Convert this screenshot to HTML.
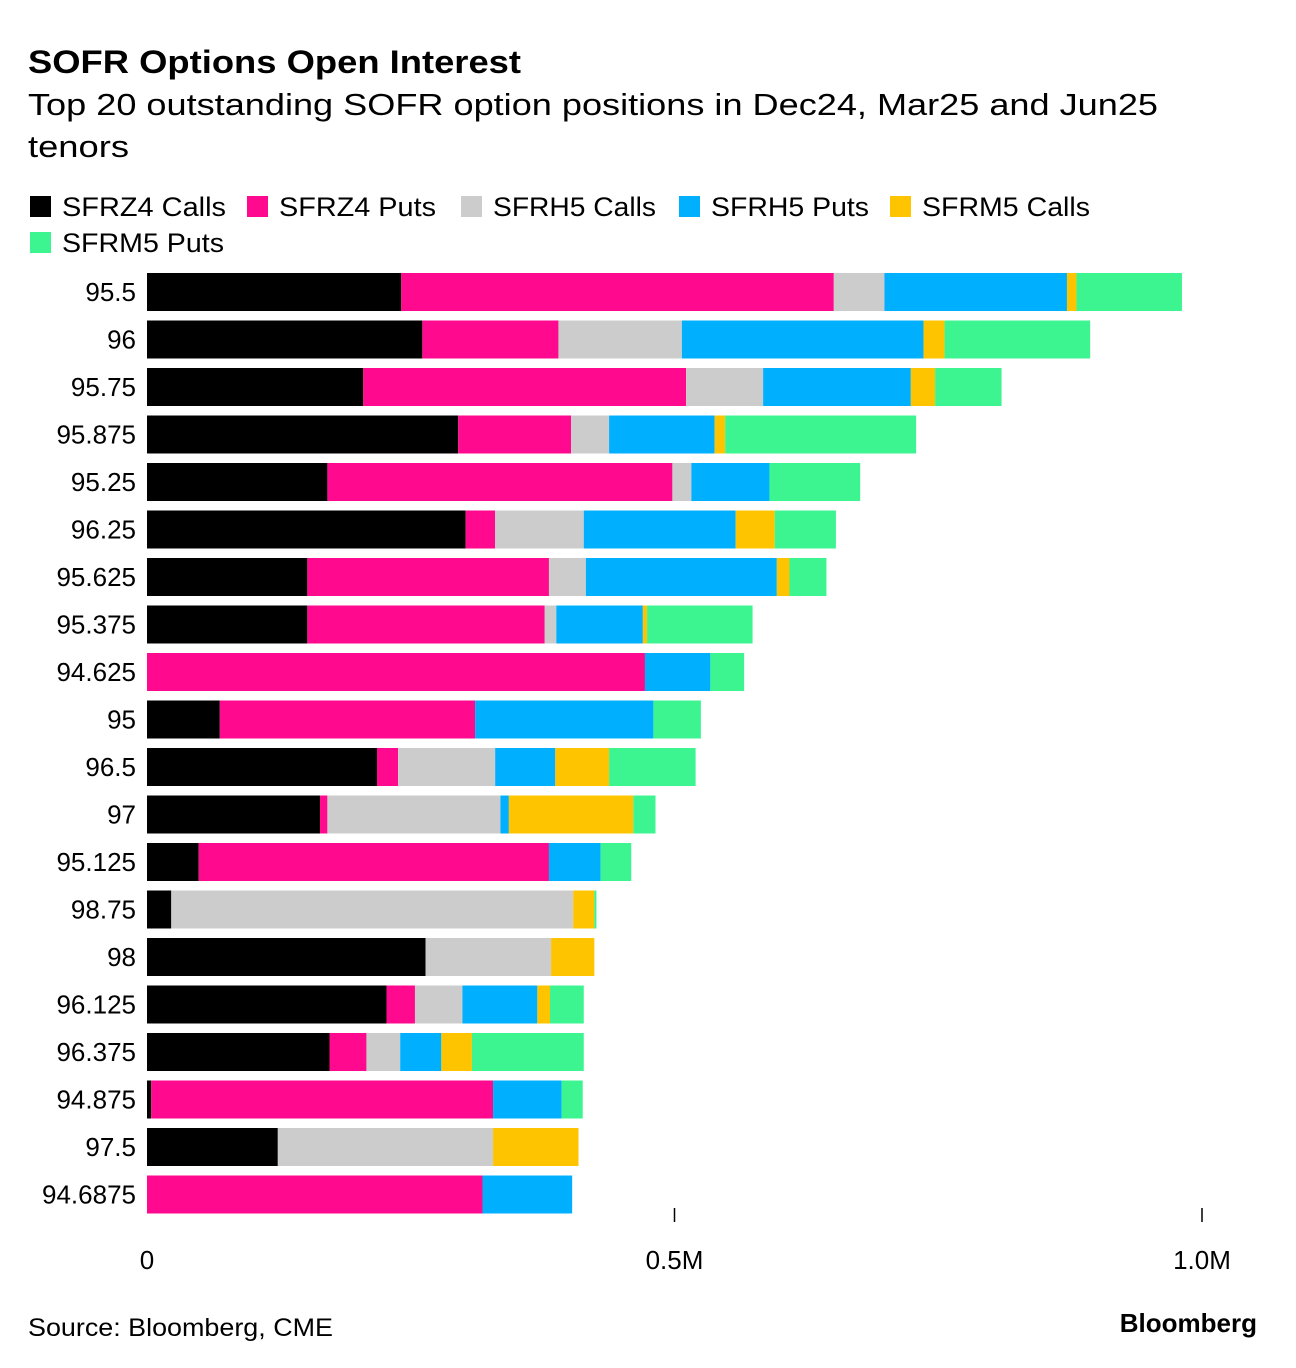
<!DOCTYPE html>
<html><head><meta charset="utf-8">
<style>
body{margin:0;background:#fff;font-family:"Liberation Sans",sans-serif;}
#wrap{position:relative;width:1296px;height:1368px;overflow:hidden;}
</style></head>
<body>
<div id="wrap">
<svg id="chart" width="1296" height="1368" xmlns="http://www.w3.org/2000/svg">
<text x="28" y="73" font-size="32" font-weight="bold" fill="#000" textLength="493" lengthAdjust="spacingAndGlyphs">SOFR Options Open Interest</text>
<text x="28" y="115" font-size="31" fill="#000" textLength="1130" lengthAdjust="spacingAndGlyphs">Top 20 outstanding SOFR option positions in Dec24, Mar25 and Jun25</text>
<text x="28" y="157" font-size="31" fill="#000" textLength="101" lengthAdjust="spacingAndGlyphs">tenors</text>
<g id="legend"></g>
<g id="bars"></g>
<g id="axis"></g>
<text x="28" y="1336" font-size="25" fill="#000" textLength="305" lengthAdjust="spacingAndGlyphs">Source: Bloomberg, CME</text>
<text x="1257" y="1332" font-size="26" font-weight="bold" text-anchor="end" fill="#000">Bloomberg</text>
</svg>
</div>
<script>
const categories=["95.5","96","95.75","95.875","95.25","96.25","95.625","95.375","94.625","95","96.5","97","95.125","98.75","98","96.125","96.375","94.875","97.5","94.6875"];
const seriesNames=["SFRZ4 Calls","SFRZ4 Puts","SFRH5 Calls","SFRH5 Puts","SFRM5 Calls","SFRM5 Puts"];
const seriesColors=["#000000","#ff0a8f","#cccccc","#00b0ff","#ffc400","#3cf590"];
// values in thousands of contracts
const z4Calls=[241,261,205,295,171,302,152,152,0,69,218,164,49,23,264,227,173,4,124,0];
const z4Puts=[410,129,306,107,327,28,229,225,472,242,20,7,332,0,0,27,35,324,0,318];
const h5Calls=[48,117,73,36,18,84,35,11,0,0,92,164,0,381,119,45,32,0,204,0];
const h5Puts=[173,229,140,100,74,144,181,82,62,169,57,8,49,0,0,71,39,65,0,85];
const m5Calls=[9,20,23,10,0,37,12,4,0,0,51,118,0,20,41,12,29,0,81,0];
const m5Puts=[100,138,63,181,86,58,35,100,32,45,82,21,29,2,0,32,106,20,0,0];
const series=[z4Calls,z4Puts,h5Calls,h5Puts,m5Calls,m5Puts];
const tickValues=[0,500,1000];
const tickLabels=["0","0.5M","1.0M"];

const NS="http://www.w3.org/2000/svg";
const x0=147, pxPerK=1.055;
const xScale=v=>x0+v*pxPerK;
const rowTop=i=>273+i*47.5;
const barH=38;
function mk(tag,attrs,parent){const e=document.createElementNS(NS,tag);for(const k in attrs)e.setAttribute(k,attrs[k]);parent.appendChild(e);return e;}

// legend
const lg=document.getElementById('legend');
const legPos=[[30,206],[247,206],[461,206],[679,206],[890,206],[30,242]];
const legW=[164,157,163,158,168,162];
seriesNames.forEach((n,i)=>{
  const g=mk('g',{},lg);
  
  
  mk('rect',{x:legPos[i][0],y:legPos[i][1]-10,width:21,height:21,fill:seriesColors[i]},g);
  const t=mk('text',{x:legPos[i][0]+32,y:legPos[i][1]+10,'font-size':27,fill:'#000',textLength:legW[i],lengthAdjust:'spacingAndGlyphs'},g);
  t.textContent=n;
});

// bars
const bg=document.getElementById('bars');
categories.forEach((c,i)=>{
  const y=rowTop(i);
  const lab=mk('text',{x:136,y:y+barH/2+9,'font-size':26,'text-anchor':'end',fill:'#000'},bg);
  lab.textContent=c;
  
  
  let cum=0;
  series.forEach((s,j)=>{
    const v=s[i];
    if(v>0){
      const r=mk('rect',{x:xScale(cum),y:y,width:v*pxPerK,height:barH,fill:seriesColors[j]},bg);
      
      
    }
    cum+=v;
  });
});

// axis
const ax=document.getElementById('axis');
tickValues.forEach((v,i)=>{
  const x=xScale(v);
  if(v>0){
    const l=mk('line',{x1:x,x2:x,y1:1208,y2:1222,stroke:'#000','stroke-width':1.5},ax);
    
    
  }
  const t=mk('text',{x:x,y:1269,'font-size':26,'text-anchor':'middle',fill:'#000'},ax);
  t.textContent=tickLabels[i];
  
  
});
</script>
</body></html>
